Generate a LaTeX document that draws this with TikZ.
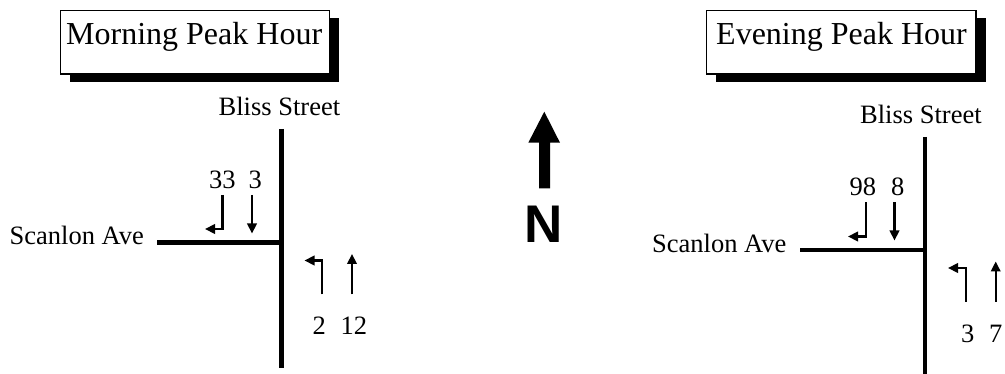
\documentclass[tikz,border=0pt]{standalone}
\usepackage{fontspec}
\setmainfont{Liberation Serif}
\newfontfamily\arialfont{Liberation Sans}
\usetikzlibrary{arrows.meta}
\begin{document}
\begin{tikzpicture}[x=1pt,y=-1pt,
  titlebox/.style={draw=black,line width=1.2pt,fill=white},
  shadowbox/.style={fill=black},
  road/.style={line width=4.5pt},
  flow/.style={line width=2.2pt,-{Triangle[length=10pt,width=9.5pt]}},
  title/.style={anchor=base west,inner sep=0pt,font=\fontsize{32}{38}\selectfont},
  lbl/.style={anchor=base west,inner sep=0pt,font=\fontsize{26.5}{31}\selectfont},
  num/.style={anchor=base west,inner sep=0pt,font=\fontsize{26.5}{31}\selectfont}]
\useasboundingbox (0,0) rectangle (1005,374);

% ---------------- Morning ----------------
\fill[shadowbox] (70,18) rectangle (338.5,81.7);
\draw[titlebox] (60.7,10.5) rectangle (329.3,74);
\node[title] (mtitle) at (66,45) {Morning Peak Hour};
\node[lbl] (mbliss) at (218.5,115.5) {Bliss Street};
\node[lbl] (mscan) at (9.5,244.5) {Scanlon Ave};
\draw[road] (281.7,129) -- (281.7,368);
\draw[road] (157,242.7) -- (283.9,242.7);
\node[num] (m33) at (209,188.5) {33};
\node[num] (m3) at (248.5,188.5) {3};
\draw[flow] (222.5,195) -- (222.5,229) -- (205,229);
\draw[flow] (252,195) -- (252,233.5);
\draw[flow] (322.3,294.5) -- (322.3,260.5) -- (304.5,260.5);
\draw[flow] (352,294.5) -- (352,254);
\node[num] (m2) at (312.5,334.5) {2};
\node[num] (m12) at (340.5,334.5) {12};

% ---------------- North arrow ----------------
\fill (544.3,111.7) -- (560,142.7) -- (550,142.7) -- (550,188.3) -- (539,188.3) -- (539,142.7) -- (528.3,142.7) -- cycle;
\node[anchor=base,inner sep=0pt,font=\arialfont\bfseries\fontsize{53}{60}\selectfont] (north) at (543.5,242.3) {N};

% ---------------- Evening ----------------
\fill[shadowbox] (716,18) rectangle (986,81.7);
\draw[titlebox] (706.7,10.5) rectangle (976,74);
\node[title] (etitle) at (716,45) {Evening Peak Hour};
\node[lbl] (ebliss) at (860,123.3) {Bliss Street};
\node[lbl] (escan) at (652,252.3) {Scanlon Ave};
\draw[road] (925,137) -- (925,373.5);
\draw[road] (800,250.2) -- (927.2,250.2);
\node[num] (e98) at (849.5,196) {98};
\node[num] (e8) at (891,196) {8};
\draw[flow] (866,202.5) -- (866,236.5) -- (848,236.5);
\draw[flow] (894.5,202.5) -- (894.5,240.5);
\draw[flow] (966,302) -- (966,268) -- (948,268);
\draw[flow] (995.7,302) -- (995.7,261.5);
\node[num] (e3) at (960.8,342) {3};
\node[num] (e7) at (989,342) {7};
\end{tikzpicture}
\end{document}
